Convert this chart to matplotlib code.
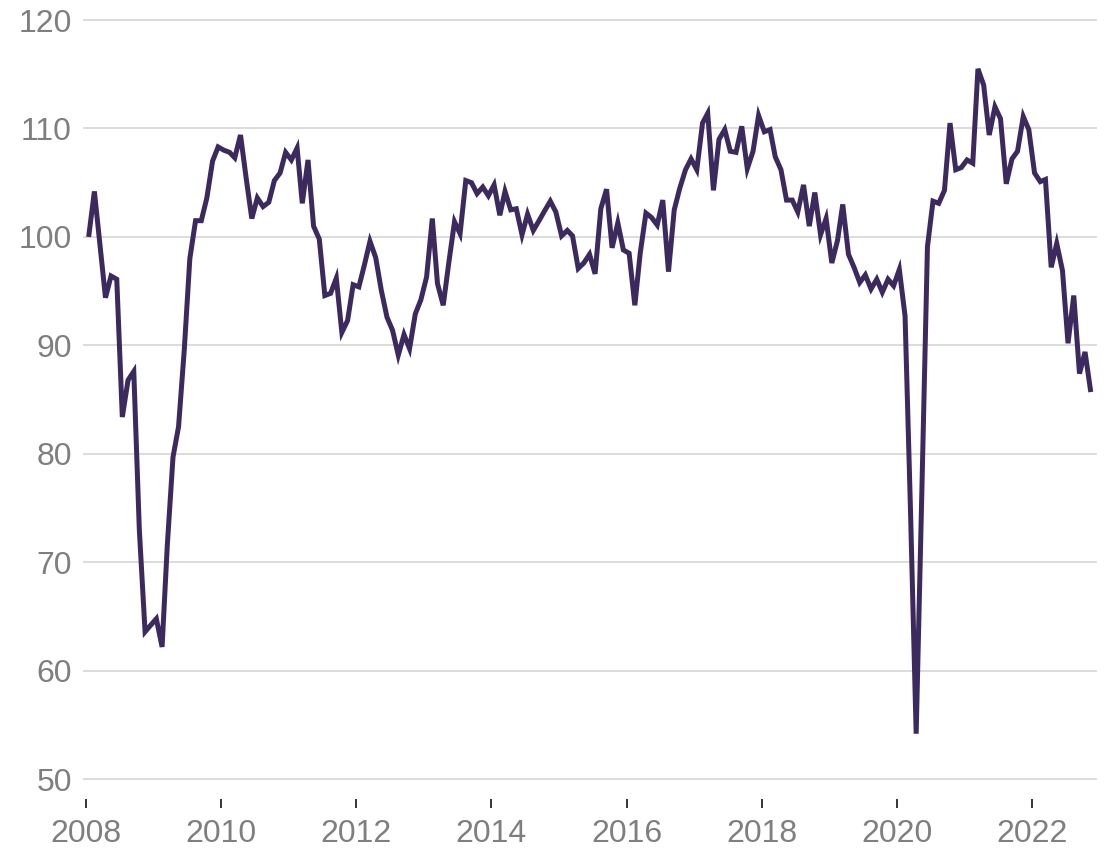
import pandas as pd
import numpy as np
import matplotlib.pyplot as plt
import matplotlib.dates as mdates

# monthly index, Jan 2008 - Nov 2022
START = "2008-01-01"
VALUES = [
    100.0, 104.2, 99.5, 94.4, 96.4, 96.1, 83.4, 86.8, 87.6, 73.0, 63.6, 64.2,   # 2008
    64.8, 62.2, 71.5, 79.7, 82.5, 89.6, 98.0, 101.5, 101.5, 103.6, 107.0, 108.3,  # 2009
    108.0, 107.8, 107.3, 109.4, 105.5, 101.7, 103.6, 102.8, 103.2, 105.2, 105.9, 107.8,  # 2010
    107.1, 108.2, 103.1, 107.1, 101.0, 99.8, 94.6, 94.8, 96.2, 91.2, 92.3, 95.6,  # 2011
    95.4, 97.5, 99.6, 98.1, 95.1, 92.6, 91.4, 89.1, 91.0, 89.7, 92.9, 94.2,  # 2012
    96.3, 101.7, 95.7, 93.7, 97.6, 101.4, 100.3, 105.2, 105.0, 104.0, 104.6, 103.8,  # 2013
    104.8, 102.0, 104.2, 102.5, 102.6, 100.2, 102.1, 100.6, 101.5, 102.4, 103.3, 102.3,  # 2014
    100.1, 100.6, 100.1, 97.1, 97.6, 98.4, 96.6, 102.6, 104.4, 99.0, 101.3, 98.8,  # 2015
    98.5, 93.7, 98.5, 102.2, 101.8, 101.1, 103.4, 96.8, 102.5, 104.5, 106.2, 107.2,  # 2016
    106.2, 110.5, 111.4, 104.3, 109.0, 109.9, 107.9, 107.8, 110.2, 106.3, 107.9, 111.2,  # 2017
    109.7, 109.9, 107.4, 106.2, 103.4, 103.4, 102.3, 104.8, 101.0, 104.1, 100.2, 101.7,  # 2018
    97.6, 99.7, 103.0, 98.4, 97.2, 95.8, 96.5, 95.2, 96.1, 94.9, 96.1, 95.5,  # 2019
    97.0, 92.7, 75.0, 54.2, 76.0, 99.1, 103.3, 103.1, 104.3, 110.5, 106.2, 106.4,  # 2020
    107.1, 106.8, 115.5, 114.0, 109.4, 112.0, 110.9, 104.9, 107.2, 107.9, 111.1, 109.9,  # 2021
    105.9, 105.1, 105.3, 97.2, 99.4, 96.9, 90.2, 94.6, 87.4, 89.4, 85.7,  # 2022
]
Y_TICKS = [50, 60, 70, 80, 90, 100, 110, 120]

LINE_COLOR = "#3c2a5f"
GRID_COLOR = "#d9d9d9"
TEXT_COLOR = "#7f7f7f"


def main():
    plt.rcParams['font.family'] = ['Liberation Sans', 'DejaVu Sans']

    # points sit mid-month
    dates = pd.date_range(START, periods=len(VALUES), freq='MS') + pd.Timedelta(days=14)

    fig = plt.figure(figsize=(11.09, 8.5), dpi=100)
    ax = fig.add_axes([0.0746, 0.0596, 0.9143, 0.9204])

    ax.plot(dates, VALUES, color=LINE_COLOR, linewidth=3.6,
            solid_joinstyle='miter', solid_capstyle='butt', zorder=3)

    ax.set_xlim(pd.Timestamp("2007-12-14"), pd.Timestamp("2022-12-17"))
    ax.set_ylim(48.15, 120.28)
    ax.set_yticks(Y_TICKS)
    ax.xaxis.set_major_locator(mdates.YearLocator(2))
    ax.xaxis.set_major_formatter(mdates.DateFormatter('%Y'))

    ax.grid(axis='y', color=GRID_COLOR, linewidth=1.3)
    ax.set_axisbelow(True)
    for s in ax.spines.values():
        s.set_visible(False)

    ax.tick_params(axis='y', length=0, pad=7.9, labelsize=23, labelcolor=TEXT_COLOR)
    ax.tick_params(axis='x', length=6.5, width=1.1, color='black', pad=8,
                   labelsize=23, labelcolor=TEXT_COLOR)

    fig.savefig("out.png", dpi=100)


if __name__ == "__main__":
    main()
